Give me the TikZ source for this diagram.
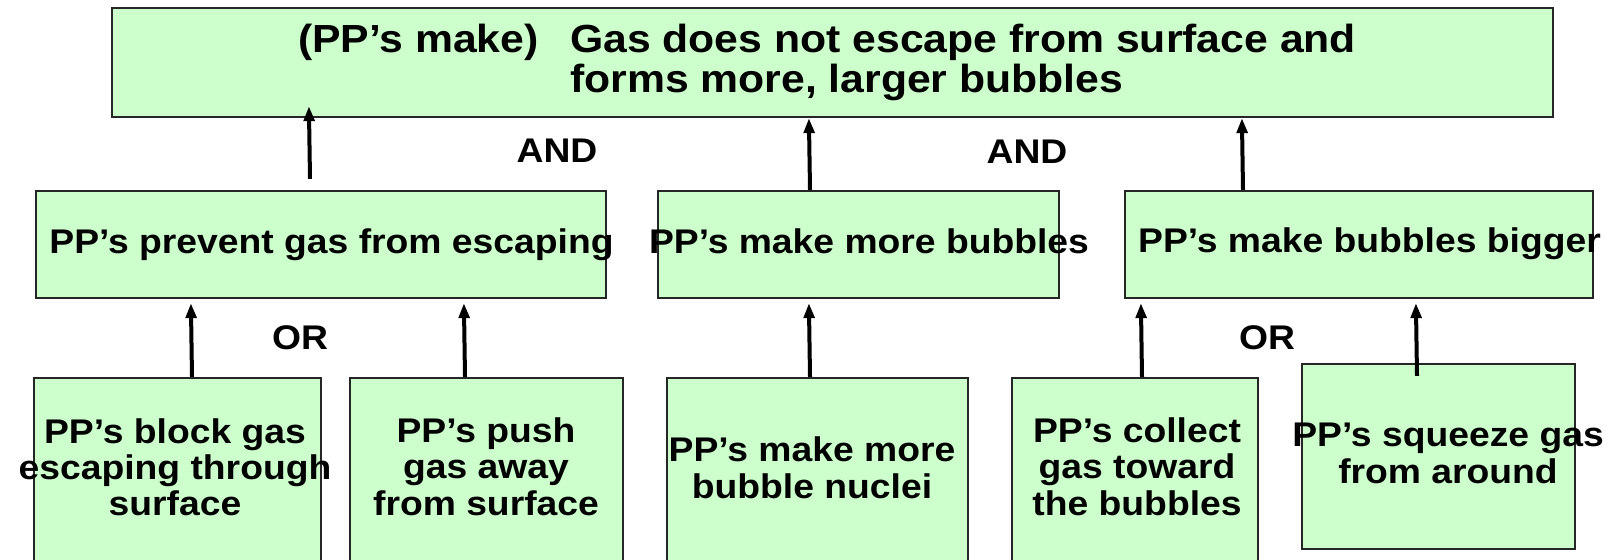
\documentclass[tikz,border=0pt]{standalone}
\usepackage{fontspec}
\setmainfont{Liberation Sans}[FakeStretch=1.09]
\usetikzlibrary{arrows.meta,calc}
\definecolor{boxgreen}{HTML}{CCFFCC}
\newcommand{\mlines}[1]{\begin{tabular}[t]{@{}c@{}}#1\end{tabular}}
\begin{document}
\begin{tikzpicture}[x=0.5pt,y=-0.5pt,
  box/.style={draw=black!85, line width=1.1pt, fill=boxgreen, inner sep=0pt},
  txt/.style={inner sep=0pt, anchor=base, font=\bfseries\fontsize{17.1}{18}\selectfont},
  toptxt/.style={inner sep=0pt, anchor=base west, font=\bfseries\fontsize{19.6}{19.5}\selectfont},
  arr/.style={line width=2pt, -{Triangle[length=7.5pt,width=5.3pt]}}]
\useasboundingbox (0,0) rectangle (1615,560);
\fill[white] (0,0) rectangle (1615,560);
\begin{scope}
\clip (0,0) rectangle (1615,560);
% boxes
\node[box, minimum width=720.5pt, minimum height=54.5pt] (T) at (832.5,62.5) {};
\node[box, minimum width=285pt, minimum height=53.5pt] (A) at (321,244.5) {};
\node[box, minimum width=200.5pt, minimum height=53.5pt] (B) at (858.5,244.5) {};
\node[box, minimum width=234pt, minimum height=53.5pt] (C) at (1359,244.5) {};
\node[box, minimum width=143.5pt, minimum height=111pt] (D) at (177.5,489) {};
\node[box, minimum width=136.5pt, minimum height=111pt] (E) at (486.5,489) {};
\node[box, minimum width=150.5pt, minimum height=111pt] (F) at (817.5,489) {};
\node[box, minimum width=123pt, minimum height=111pt] (G) at (1135,489) {};
\node[box, minimum width=136.5pt, minimum height=92.5pt] (H) at (1438.5,456.5) {};
% texts
\node[toptxt] (Tt) at (297.7,52.7) {\begin{tabular}[t]{@{}l@{}l@{}}\makebox[136pt][l]{(PP’s make)} & Gas does not escape from surface and\\ & forms more, larger bubbles\end{tabular}};
\node[txt] (At) at (331.5,254) {PP’s prevent gas from escaping};
\node[txt] (Bt) at (869,254) {PP’s make more bubbles};
\node[txt] (Ct) at (1369.5,253) {PP’s make bubbles bigger};
\node[txt] (Dt) at (175,444) {\mlines{PP’s block gas\\escaping through\\surface}};
\node[txt] (Et) at (486,443) {\mlines{PP’s push\\gas away\\from surface}};
\node[txt] (Ft) at (812,462) {\mlines{PP’s make more\\bubble nuclei}};
\node[txt] (Gt) at (1137,443) {\mlines{PP’s collect\\gas toward\\the bubbles}};
\node[txt] (Ht) at (1448,447) {\mlines{PP’s squeeze gas\\from around}};
\node[txt] (and1) at (557,163) {AND};
\node[txt] (and2) at (1027,164) {AND};
\node[txt] (or1) at (300,350) {OR};
\node[txt] (or2) at (1267,350) {OR};
% arrows
\draw[arr] ($(A.north)+(-11,-11)$) -- ($(T.south west)+(198,-12)$);
\draw[arr] ($(B.north)+(-48.5,0)$) -- ($(T.south west)+(698,0)$);
\draw[arr] ($(C.north)+(-116,0)$) -- ($(T.south west)+(1131,0)$);
\draw[arr] ($(D.north)+(14.5,0)$) -- ($(A.south west)+(156,4)$);
\draw[arr] ($(E.north)+(-21.5,0)$) -- ($(A.south west)+(429,4)$);
\draw[arr] ($(F.north)+(-7.5,0)$) -- ($(B.south west)+(152,4)$);
\draw[arr] ($(G.north)+(7,0)$) -- ($(C.south west)+(17,4)$);
\draw[arr] ($(H.north)+(-21.5,13)$) -- ($(C.south west)+(292,4)$);
\end{scope}
\end{tikzpicture}
\end{document}
